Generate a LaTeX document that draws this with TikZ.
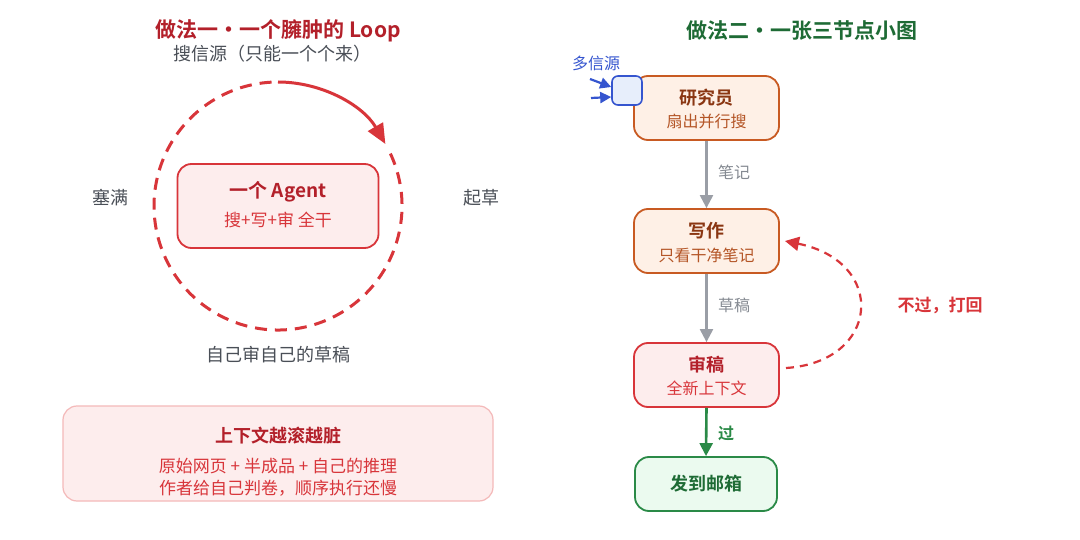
\documentclass[tikz,border=0pt]{standalone}
\usepackage{fontspec}
\setmainfont{Noto Sans CJK SC}[BoldFont={Noto Sans CJK SC Bold}]
\usetikzlibrary{arrows.meta,calc}
\definecolor{dred}{HTML}{B3202A}
\definecolor{mred}{HTML}{D8353A}
\definecolor{lred}{HTML}{FDEDED}
\definecolor{pinkb}{HTML}{F4B9B9}
\definecolor{gtxt}{HTML}{4A4F57}
\definecolor{dgreen}{HTML}{1E6B35}
\definecolor{mgreen}{HTML}{2A8A47}
\definecolor{lgreen}{HTML}{EBFAEF}
\definecolor{obord}{HTML}{C85A22}
\definecolor{ofill}{HTML}{FEF0E6}
\definecolor{otit}{HTML}{8A3612}
\definecolor{osub}{HTML}{B45526}
\definecolor{bblue}{HTML}{3555CF}
\definecolor{lblue}{HTML}{E7EEFB}
\definecolor{agray}{HTML}{9A9EA6}
\definecolor{ltxt}{HTML}{858A92}
\tikzset{
  box/.style={draw, line width=1.8pt, rounded corners=14pt, minimum width=#1, inner sep=0pt},
  ttl/.style={font=\bfseries\fontsize{18}{22}\selectfont},
  sub/.style={font=\fontsize{16}{19}\selectfont},
  lbl/.style={font=\fontsize{18}{21}\selectfont, text=gtxt},
  elbl/.style={font=\fontsize{16}{19}\selectfont, text=ltxt},
  tip/.style={-{Triangle[length=13pt,width=13pt]}},
}
\begin{document}
\begin{tikzpicture}[x=1pt,y=-1pt]
\fill[white] (0,0) rectangle (1080,540);
\useasboundingbox (0,0) rectangle (1080,540);

% ---------- left ----------
\node[font=\bfseries\fontsize{21}{25}\selectfont, text=dred] (t1) at (278,31) {做法一・一个臃肿的 Loop};
\node[lbl] (src) at (272,54) {搜信源（只能一个个来）};
\coordinate (C) at (278,206);
\draw[mred, line width=3pt, dash pattern=on 12pt off 8pt] ($(C)+(-25:124)$) arc[start angle=-25, end angle=270, radius=124];
\draw[mred, line width=3pt, -{Triangle[length=20pt,width=17pt]}] ($(C)+(-90:124)$) arc[start angle=-90, end angle=-30, radius=124];
\node[box=201pt, minimum height=84pt, draw=mred, fill=lred] (agent) at (C) {};
\node[font=\bfseries\fontsize{19}{23}\selectfont, text=dred] (agt) at (278,192) {一个 Agent};
\node[font=\fontsize{17}{20}\selectfont, text=mred] (ags) at (278,220) {搜+写+审 全干};
\node[lbl] (fill) at (110,198) {塞满};
\node[lbl] (draft) at (481,198) {起草};
\node[lbl] (self) at (278,355) {自己审自己的草稿};

\node[draw=pinkb, line width=1.2pt, fill=lred, rounded corners=14pt, minimum width=430pt, minimum height=95pt] (ctx) at (278,453.5) {};
\node[font=\bfseries\fontsize{18}{21}\selectfont, text=dred] (ctxt) at (278,436) {上下文越滚越脏};
\node[font=\fontsize{17}{20}\selectfont, text=mred] (ctx1) at (278,466) {原始网页 + 半成品 + 自己的推理};
\node[font=\fontsize{17}{20}\selectfont, text=mred] (ctx2) at (278,488) {作者给自己判卷，顺序执行还慢};

% ---------- right ----------
\node[font=\bfseries\fontsize{21}{25}\selectfont, text=dgreen] (t2) at (802,31) {做法二・一张三节点小图};

\node[box=145pt, minimum height=64pt, draw=obord, fill=ofill] (res) at (706.5,108) {};
\node[ttl, text=otit] (rest) at (706.5,98) {研究员};
\node[sub, text=osub] (ress) at (706.5,121) {扇出并行搜};

\node[draw=bblue, line width=1.6pt, fill=lblue, rounded corners=6pt, minimum width=30pt, minimum height=29pt, inner sep=0pt] (sq) at (627,90.5) {};
\node[font=\fontsize{16}{19}\selectfont, text=bblue] (multi) at (596,63) {多信源};
\coordinate (a1) at (590,79);
\coordinate (a2) at (591,98);
\draw[bblue, line width=2.2pt, -{Triangle[length=11pt,width=11pt]}] (a1) -- (sq.west |- 0,87);
\draw[bblue, line width=2.2pt, -{Triangle[length=11pt,width=11pt]}] (a2) -- (sq.west |- 0,97);

\node[box=145pt, minimum height=64pt, draw=obord, fill=ofill] (wr) at (706.5,241) {};
\node[ttl, text=otit] (wrt) at (706.5,231) {写作};
\node[sub, text=osub] (wrs) at (706.5,255) {只看干净笔记};

\node[box=145pt, minimum height=64pt, draw=mred, fill=lred] (rv) at (706.5,375) {};
\node[ttl, text=dred] (rvt) at (706.5,365) {审稿};
\node[sub, text=mred] (rvs) at (706.5,388) {全新上下文};

\node[box=142pt, minimum height=54pt, draw=mgreen, fill=lgreen] (send) at (706,484) {};
\node[ttl, text=dgreen] (sendt) at (706,484) {发到邮箱};

\draw[agray, line width=2.2pt, tip] (res.south) -- (wr.north);
\node[elbl] (n1) at (734,172) {笔记};
\draw[agray, line width=2.2pt, tip] (wr.south) -- (rv.north);
\node[elbl] (n2) at (734,305) {草稿};
\draw[mgreen, line width=2.6pt, tip] (rv.south) -- (send.north);
\node[font=\bfseries\fontsize{16}{19}\selectfont, text=mgreen] (n3) at (726,433) {过};

\coordinate (d1) at (786,368);
\coordinate (d2) at (785,241);
\draw[mred, line width=2.2pt, dash pattern=on 8pt off 6pt, -{Triangle[length=14pt,width=14pt]}] (d1) .. controls (880,362) and (888,262) .. (d2);
\node[font=\bfseries\fontsize{17}{20}\selectfont, text=mred] (n4) at (940,305) {不过，打回};
\end{tikzpicture}
\end{document}
